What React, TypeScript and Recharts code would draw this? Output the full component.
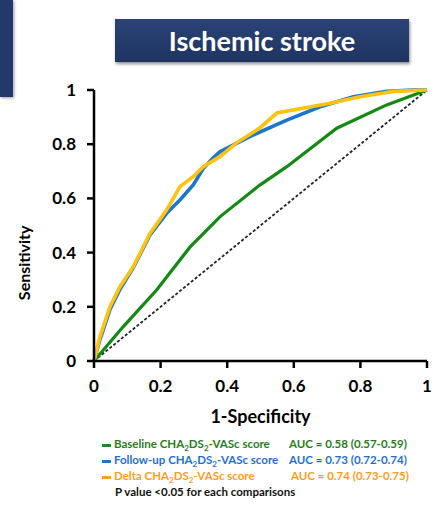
import * as React from 'react';
import { LineChart, Line, XAxis, YAxis } from 'recharts';

// ROC points (x = 1-specificity, y = sensitivity)
const baseline = [
  { x: 0, y: 0 }, { x: 0.088, y: 0.127 }, { x: 0.188, y: 0.262 }, { x: 0.288, y: 0.42 },
  { x: 0.378, y: 0.532 }, { x: 0.498, y: 0.649 }, { x: 0.579, y: 0.717 }, { x: 0.729, y: 0.859 },
  { x: 0.879, y: 0.945 }, { x: 1, y: 1 },
];
const followUp = [
  { x: 0, y: 0 }, { x: 0.018, y: 0.08 }, { x: 0.048, y: 0.19 }, { x: 0.078, y: 0.265 },
  { x: 0.118, y: 0.345 }, { x: 0.168, y: 0.465 }, { x: 0.218, y: 0.545 }, { x: 0.258, y: 0.594 },
  { x: 0.298, y: 0.65 }, { x: 0.328, y: 0.71 }, { x: 0.358, y: 0.75 }, { x: 0.378, y: 0.772 },
  { x: 0.478, y: 0.834 }, { x: 0.579, y: 0.889 }, { x: 0.679, y: 0.938 }, { x: 0.779, y: 0.975 },
  { x: 0.879, y: 0.995 }, { x: 0.959, y: 1 }, { x: 1, y: 1 },
];
const delta = [
  { x: 0, y: 0 }, { x: 0.018, y: 0.09 }, { x: 0.048, y: 0.2 }, { x: 0.078, y: 0.274 },
  { x: 0.118, y: 0.348 }, { x: 0.168, y: 0.471 }, { x: 0.218, y: 0.557 }, { x: 0.258, y: 0.643 },
  { x: 0.298, y: 0.68 }, { x: 0.328, y: 0.717 }, { x: 0.378, y: 0.754 }, { x: 0.428, y: 0.805 },
  { x: 0.498, y: 0.86 }, { x: 0.549, y: 0.915 }, { x: 0.709, y: 0.951 }, { x: 0.799, y: 0.975 },
  { x: 0.899, y: 0.995 }, { x: 1, y: 1 },
];
const reference = [{ x: 0, y: 0 }, { x: 1, y: 1 }];

const ticks = [0, 0.2, 0.4, 0.6, 0.8, 1];
const legendRows = [
  { name: 'Baseline', auc: 'AUC = 0.58 (0.57-0.59)', color: '#2a7d1c', dash: '#1f8a1f', aucLeft: 289 },
  { name: 'Follow-up', auc: 'AUC = 0.73 (0.72-0.74)', color: '#1f6fd2', dash: '#1f78d0', aucLeft: 289 },
  { name: 'Delta', auc: 'AUC = 0.74 (0.73-0.75)', color: '#ff9c1a', dash: '#ff9c1a', aucLeft: 291 },
];

const font = 'Lato, "Open Sans", sans-serif';
const fmt = (v: number) => (v === 0 || v === 1 ? `${v}` : v.toFixed(1));

export default function App() {
  return (
    <div style={{ position: 'absolute', left: 0, top: 0, width: 438, height: 510, background: '#fff', fontFamily: font }}>
      <div style={{ position: 'absolute', left: 0, top: 0, width: 13, height: 97, background: '#23396b', boxShadow: '1px 1px 3px rgba(0,0,0,0.4)' }} />
      <div style={{
        position: 'absolute', left: 115, top: 19, width: 294, height: 43,
        background: 'linear-gradient(#2a4276, #1f3462)', boxShadow: '1px 2px 3px rgba(0,0,0,0.45)',
        color: '#fff', fontWeight: 700, fontSize: 27, lineHeight: '43px', textAlign: 'center',
      }}>
        Ischemic stroke
      </div>

      <LineChart width={438} height={510} margin={{ top: 90, right: 11, bottom: 119, left: 34 }}
        style={{ position: 'absolute', left: 0, top: 0, fontFamily: font }}>
        <XAxis type="number" dataKey="x" domain={[0, 1]} ticks={ticks} tickFormatter={fmt}
          height={30} stroke="#000" strokeWidth={2.5} tickSize={7} tickMargin={12}
          tick={{ fill: '#000', fontSize: 17, fontWeight: 700 }}
          label={{ value: '1-Specificity', position: 'bottom', offset: 19, fill: '#000', fontSize: 18, fontWeight: 700 }} />
        <YAxis type="number" dataKey="y" domain={[0, 1]} ticks={ticks} tickFormatter={fmt}
          width={60} stroke="#000" strokeWidth={2.5} tickSize={7} tickMargin={11}
          tick={{ fill: '#000', fontSize: 17, fontWeight: 700 }}
          label={{ value: 'Sensitivity', angle: -90, position: 'left', offset: 10, fill: '#000', fontSize: 16, fontWeight: 700 }} />
        <Line data={reference} dataKey="y" type="linear" stroke="#222" strokeWidth={1.8}
          strokeDasharray="3 2" dot={false} isAnimationActive={false} />
        <Line data={baseline} dataKey="y" type="linear" stroke="#138a13" strokeWidth={3.2}
          dot={false} isAnimationActive={false} />
        <Line data={followUp} dataKey="y" type="linear" stroke="#1a78cc" strokeWidth={3.6}
          dot={false} isAnimationActive={false} />
        <Line data={delta} dataKey="y" type="linear" stroke="#ffc20e" strokeWidth={3.6}
          dot={false} isAnimationActive={false} />
      </LineChart>

      <div style={{ position: 'absolute', left: 0, top: 437, width: 438, fontSize: 11.5, fontWeight: 700 }}>
        {legendRows.map((r, i) => (
          <div key={r.name} style={{ position: 'absolute', top: i * 16, left: 0, width: 438, height: 16, color: r.color, whiteSpace: 'nowrap' }}>
            <span style={{ position: 'absolute', left: 102, top: 7, width: 9, height: 3, background: r.dash }} />
            <span style={{ position: 'absolute', left: 114 }}>
              {r.name} CHA<sub style={{ fontSize: 8 }}>2</sub>DS<sub style={{ fontSize: 8 }}>2</sub>-VASc score
            </span>
            <span style={{ position: 'absolute', left: r.aucLeft }}>{r.auc}</span>
          </div>
        ))}
        <div style={{ position: 'absolute', top: 48, left: 115, color: '#111', whiteSpace: 'nowrap' }}>
          P value &lt;0.05 for each comparisons
        </div>
      </div>
    </div>
  );
}
